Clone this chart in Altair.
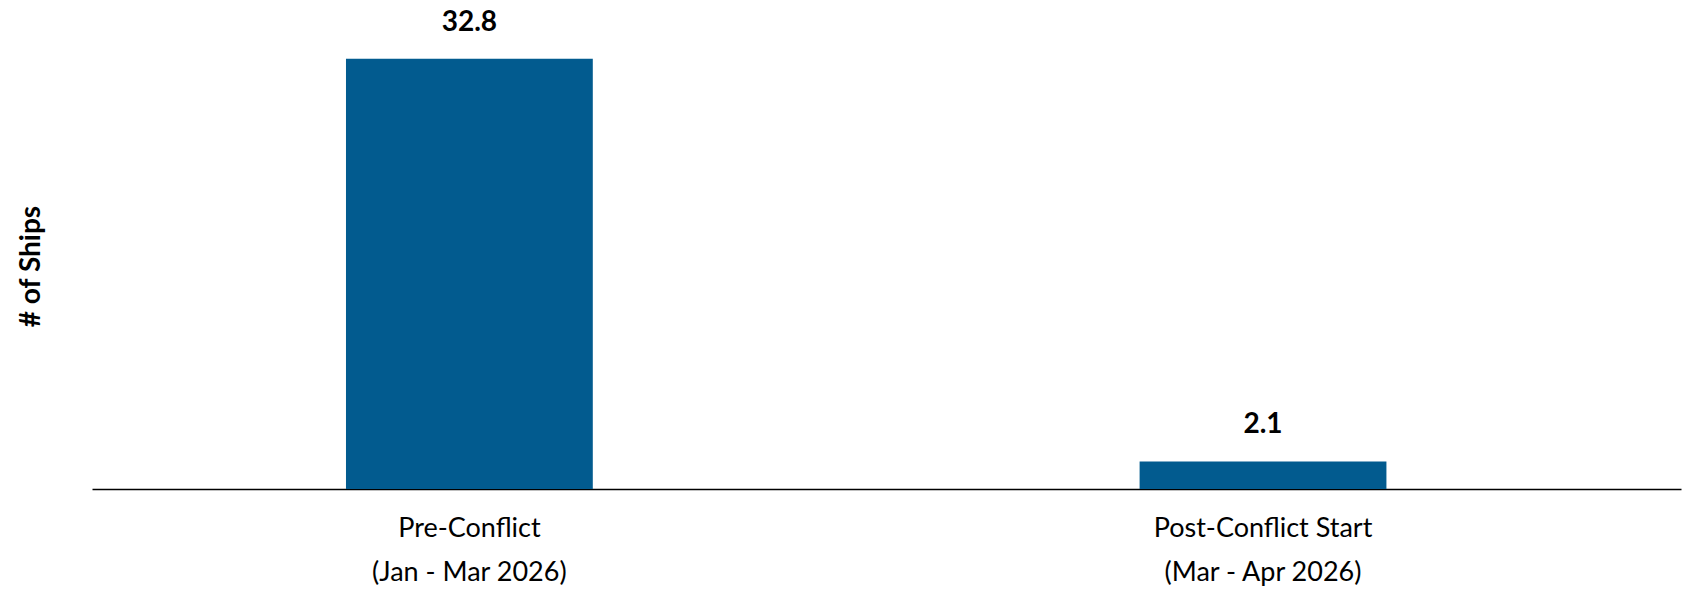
import altair as alt
import pandas as pd

categories = ["Pre-Conflict\n(Jan - Mar 2026)", "Post-Conflict Start\n(Mar - Apr 2026)"]
values = [32.8, 2.1]
labels = ["32.8", "2.1"]

df = pd.DataFrame({"period": categories, "ships": values, "label": labels})

FONT = "Lato"

x = alt.X(
    "period:N",
    sort=categories,
    title=None,
    scale=alt.Scale(paddingInner=0.689, paddingOuter=0.3456, align=0.463),
    axis=alt.Axis(
        labelExpr="split(datum.label, '\\n')",
        labelAngle=0,
        labelFont=FONT,
        labelFontSize=27,
        labelColor="#000000",
        labelLineHeight=44,
        labelPadding=26,
        labelBaseline="top",
        labelLimit=0,
        ticks=False,
        domain=True,
        domainColor="#000000",
        domainWidth=1.5,
        grid=False,
    ),
)

y = alt.Y(
    "ships:Q",
    scale=alt.Scale(domain=[0, 34], nice=False),
    axis=alt.Axis(
        title="# of Ships",
        titleFont=FONT,
        titleFontSize=28,
        titleFontWeight="bold",
        titleColor="#000000",
        titleAngle=-90,
        titleAlign="center",
        titleBaseline="middle",
        titleX=-61,
        titleY=223,
        labels=False,
        ticks=False,
        domain=False,
        grid=False,
    ),
)

bars = alt.Chart(df).mark_bar(color="#025b8f").encode(x=x, y=y)

text = alt.Chart(df).mark_text(
    font=FONT,
    fontSize=28,
    fontWeight="bold",
    color="#000000",
    baseline="alphabetic",
    dy=-28,
).encode(x=alt.X("period:N", sort=categories), y="ships:Q", text="label:N")

chart = (
    alt.layer(bars, text)
    .properties(
        width=1589,
        height=446,
        autosize=alt.AutoSizeParams(type="none"),
        padding={"left": 84, "top": 35, "right": 10, "bottom": 100},
    )
    .configure_view(stroke=None)
)

chart.save("out.html", embed_options={"renderer": "svg", "actions": False})
